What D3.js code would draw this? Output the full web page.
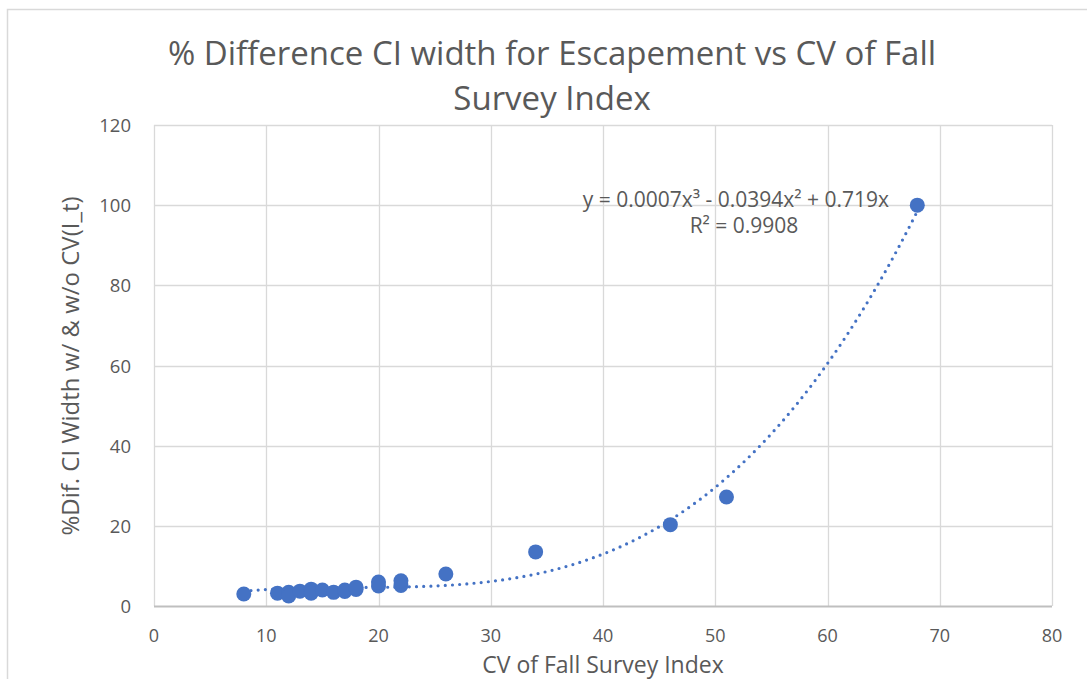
<!DOCTYPE html>
<html><head><meta charset="utf-8">
<script src="https://cdn.jsdelivr.net/npm/d3@7"></script>
<style>body{margin:0;background:#fff}svg text{font-family:"Open Sans","Liberation Sans",sans-serif;fill:#595959}</style>
</head><body><svg id="c" width="1087" height="679"></svg>
<script>
const cvValues = [8, 11, 12, 12, 13, 14, 14, 15, 16, 17, 17, 18, 18, 20, 20, 22, 22, 26, 34, 46, 51, 68];
const difValues = [3.0, 3.2, 3.4, 2.5, 3.7, 4.2, 3.2, 4.0, 3.4, 3.6, 4.0, 4.1, 4.7, 5.0, 6.0, 5.1, 6.3, 8.0, 13.5, 20.3, 27.2, 100];
const xTicks = [0, 10, 20, 30, 40, 50, 60, 70, 80];
const yTicks = [0, 20, 40, 60, 80, 100, 120];
const titleLines = ["% Difference CI width for Escapement vs CV of Fall", "Survey Index"];
const xTitle = "CV of Fall Survey Index";
const yTitle = "%Dif. CI Width w/ & w/o CV(I_t)";
const eqLines = ["y = 0.0007x³ - 0.0394x² + 0.719x", "R² = 0.9908"];

const svg = d3.select("#c");
const L = 154, R = 1052, T = 125, B = 606;
const x = d3.scaleLinear().domain([0, 80]).range([L, R]);
const y = d3.scaleLinear().domain([0, 120]).range([B, T]);

// outer border
svg.append("rect").attr("x", 7.5).attr("y", 9.5).attr("width", 1100).attr("height", 700)
  .attr("fill", "none").attr("stroke", "#d9d9d9").attr("stroke-width", 1.5);

// gridlines
svg.append("g").selectAll("line").data(xTicks).join("line")
  .attr("x1", d => Math.round(x(d)) + 0.5).attr("x2", d => Math.round(x(d)) + 0.5)
  .attr("y1", T).attr("y2", B).attr("stroke", "#d9d9d9").attr("stroke-width", 1.3);
svg.append("g").selectAll("line").data(yTicks).join("line")
  .attr("x1", L).attr("x2", R)
  .attr("y1", d => Math.round(y(d)) + 0.5).attr("y2", d => Math.round(y(d)) + 0.5)
  .attr("stroke", d => d === 0 ? "#bfbfbf" : "#d9d9d9").attr("stroke-width", d => d === 0 ? 1.8 : 1.3);

// tick labels
svg.append("g").selectAll("text").data(xTicks).join("text")
  .attr("x", d => x(d)).attr("y", 642).attr("text-anchor", "middle")
  .attr("font-size", 18).text(d => d);
svg.append("g").selectAll("text").data(yTicks).join("text")
  .attr("x", 131).attr("y", d => y(d) + 7).attr("text-anchor", "end")
  .attr("font-size", 18.5).text(d => d);

// axis titles
svg.append("text").attr("x", 603).attr("y", 672.5).attr("text-anchor", "middle")
  .attr("font-size", 23).text(xTitle);
svg.append("text").attr("transform", `translate(79,366) rotate(-90)`)
  .attr("text-anchor", "middle").attr("font-size", 24).text(yTitle);

// title
svg.append("g").selectAll("text").data(titleLines).join("text")
  .attr("x", 552).attr("y", (d, i) => 65 + i * 45).attr("text-anchor", "middle")
  .attr("font-size", 33).text(d => d);

// polynomial trendline (least squares, order 3, intercept 0)
function fitCubic(xs, ys) {
  const S = [[0,0,0],[0,0,0],[0,0,0]], v = [0,0,0];
  xs.forEach((xi, k) => {
    const b = [xi, xi*xi, xi*xi*xi];
    for (let i = 0; i < 3; i++) { v[i] += b[i]*ys[k]; for (let j = 0; j < 3; j++) S[i][j] += b[i]*b[j]; }
  });
  const M = S.map((r, i) => r.concat([v[i]]));
  for (let i = 0; i < 3; i++) {
    for (let k = i + 1; k < 3; k++) {
      const f = M[k][i] / M[i][i];
      for (let j = i; j < 4; j++) M[k][j] -= f * M[i][j];
    }
  }
  const c = [0,0,0];
  for (let i = 2; i >= 0; i--) {
    let s = M[i][3];
    for (let j = i + 1; j < 3; j++) s -= M[i][j] * c[j];
    c[i] = s / M[i][i];
  }
  return c;
}
const coef = fitCubic(cvValues, difValues);
const xmin = d3.min(cvValues), xmax = d3.max(cvValues);
const trend = d3.range(0, 301).map(i => {
  const xv = xmin + (xmax - xmin) * i / 300;
  return [xv, coef[0]*xv + coef[1]*xv*xv + coef[2]*xv*xv*xv];
});
svg.append("path").datum(trend)
  .attr("d", d3.line().x(d => x(d[0])).y(d => y(d[1])))
  .attr("fill", "none").attr("stroke", "#4472c4").attr("stroke-width", 3.2)
  .attr("stroke-linecap", "round").attr("stroke-dasharray", "0 7.2");

// points
svg.append("g").selectAll("circle").data(cvValues.map((c, i) => [c, difValues[i]])).join("circle")
  .attr("cx", d => x(d[0])).attr("cy", d => y(d[1])).attr("r", 7.5).attr("fill", "#4472c4");

// equation
svg.append("g").selectAll("text").data(eqLines).join("text")
  .attr("x", (d, i) => i === 0 ? 736 : 744).attr("y", (d, i) => 207 + i * 26)
  .attr("text-anchor", "middle").attr("font-size", 21).text(d => d);
</script></body></html>
